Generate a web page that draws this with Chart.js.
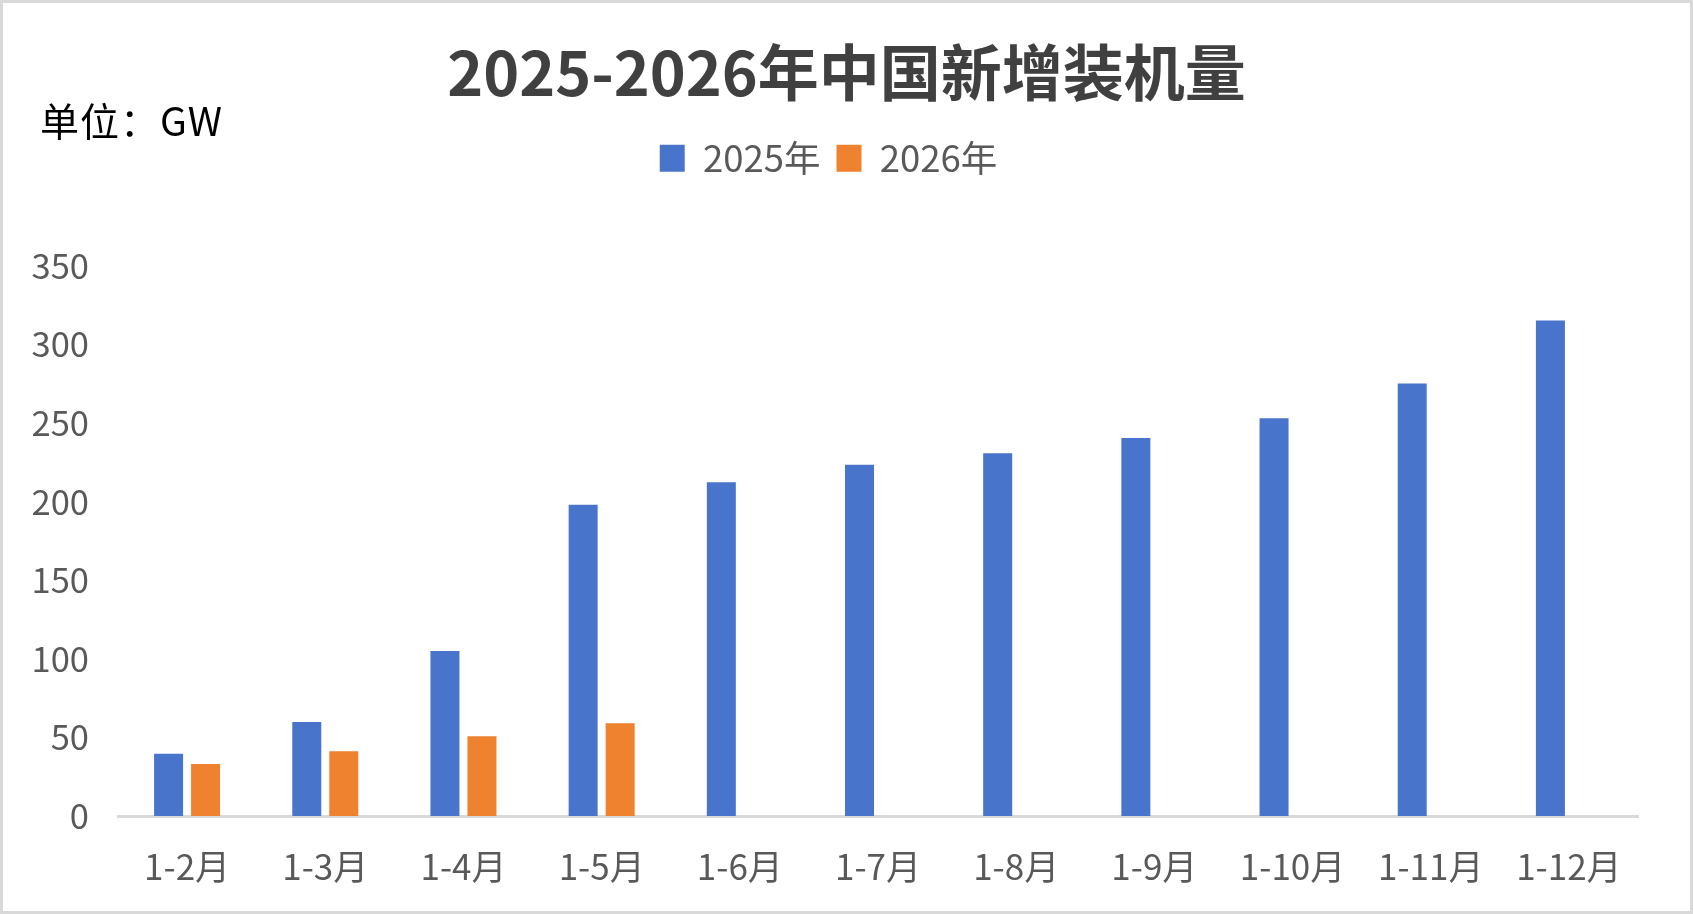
<!DOCTYPE html>
<html lang="zh-CN">
<head>
<meta charset="utf-8">
<title>2025-2026年中国新增装机量</title>
<script src="https://cdn.jsdelivr.net/npm/chart.js@4/dist/chart.umd.min.js"></script>
<style>
    html, body { margin: 0; padding: 0; background: #fff; }
    #wrap { position: relative; width: 1693px; height: 914px; overflow: hidden; }
    #frame { position: absolute; left: 0; top: 0; right: 0; bottom: 0; border: 3px solid #d9d9d9; pointer-events: none; }
    #unit {
        position: absolute; left: 40px; top: 100px;
        font: 39px/39px "Noto Sans CJK SC", "Noto Sans", sans-serif;
        letter-spacing: 1px;
        color: #000;
    }
</style>
</head>
<body>
<div id="wrap">
    <canvas id="installChart" width="1693" height="914"></canvas>
    <div id="unit">单位：GW</div>
    <div id="frame"></div>
</div>
<script>
// 横轴（累计月份）
const categories = ['1-2月', '1-3月', '1-4月', '1-5月', '1-6月', '1-7月', '1-8月', '1-9月', '1-10月', '1-11月', '1-12月'];
// 累计新增装机量 (GW)
const values2025 = [39.5, 59.7, 104.9, 197.9, 212.2, 223.3, 230.6, 240.3, 252.9, 274.9, 315.1];
const values2026 = [33.1, 41.2, 50.7, 59.0, null, null, null, null, null, null, null];
const seriesNames = ['2025年', '2026年'];
// 纵轴刻度
const yMin = 0;
const yMax = 350;
const yStep = 50;

const FONT = '"Noto Sans CJK SC", "Noto Sans", sans-serif';

// 图例下方留白，并稍微左移（与原图一致）
const legendTweak = {
    id: 'legendTweak',
    beforeInit(chart) {
        const legend = chart.legend;
        const origFit = legend.fit;
        legend.fit = function () {
            origFit.call(legend);
            legend.height += 79;
        };
        const origDraw = legend.draw;
        legend.draw = function (area) {
            const ctx = chart.ctx;
            ctx.save();
            ctx.translate(-18, 0);
            origDraw.call(legend, area);
            ctx.restore();
        };
    }
};

const ctx = document.getElementById('installChart').getContext('2d');
const installChart = new Chart(ctx, {
    type: 'bar',
    data: {
        labels: categories,
        datasets: [
            {
                label: seriesNames[0],
                data: values2025,
                backgroundColor: '#4874cb',
                categoryPercentage: 0.5355,
                barPercentage: 0.784
            },
            {
                label: seriesNames[1],
                data: values2026,
                backgroundColor: '#ee822f',
                categoryPercentage: 0.5355,
                barPercentage: 0.784
            }
        ]
    },
    options: {
        responsive: false,
        animation: false,
        layout: { padding: 0 },
        plugins: {
            title: {
                display: true,
                text: '2025-2026年中国新增装机量',
                color: '#404040',
                font: { family: FONT, size: 61, weight: 'bold', lineHeight: 1 },
                padding: { top: 42, bottom: 21 }
            },
            legend: {
                display: true,
                position: 'top',
                labels: {
                    color: '#595959',
                    font: { family: FONT, size: 36.5 },
                    boxWidth: 25,
                    boxHeight: 27,
                    padding: 16
                }
            },
            tooltip: { enabled: false }
        },
        scales: {
            x: {
                grid: { display: false, drawTicks: false },
                border: { display: true, color: '#d9d9d9', width: 3 },
                ticks: {
                    color: '#595959',
                    font: { family: FONT, size: 35 },
                    padding: 30,
                    maxRotation: 0,
                    autoSkip: false
                },
                afterFit(scale) { scale.height = 98; }
            },
            y: {
                min: yMin,
                max: yMax,
                grid: { display: false, drawTicks: false },
                border: { display: false },
                ticks: {
                    stepSize: yStep,
                    color: '#595959',
                    font: { family: FONT, size: 34.5 },
                    padding: 29
                },
                afterFit(scale) { scale.width = 118; }
            },
            // 右侧留白用的空轴
            yRight: {
                position: 'right',
                display: true,
                grid: { display: false, drawTicks: false },
                border: { display: false },
                ticks: { display: false },
                afterFit(scale) { scale.width = 55; }
            }
        }
    },
    plugins: [legendTweak]
});
</script>
</body>
</html>
